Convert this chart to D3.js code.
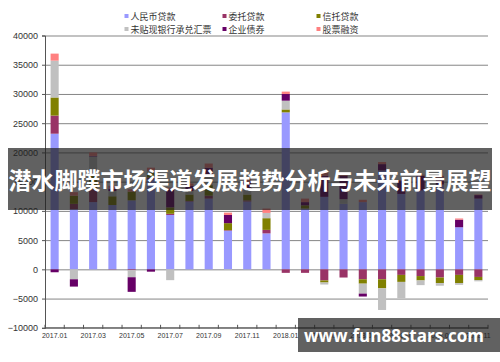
<!DOCTYPE html>
<html lang="zh">
<head>
    <meta charset="UTF-8">
    <title>社会融资规模构成</title>
    <script src="https://d3js.org/d3.v7.min.js"></script>
    <style>
        body {
            margin: 0;
            padding: 0;
            background-color: #fff;
        }

        svg {
            display: block;
        }
    </style>
</head>
<body>
    <svg id="chart" width="500" height="362"></svg>

    <script>
        // 月份 (2017.01 - 2018.11)
        const months = [
            "2017.01", "2017.02", "2017.03", "2017.04", "2017.05", "2017.06",
            "2017.07", "2017.08", "2017.09", "2017.10", "2017.11", "2017.12",
            "2018.01", "2018.02", "2018.03", "2018.04", "2018.05", "2018.06",
            "2018.07", "2018.08", "2018.09", "2018.10", "2018.11"
        ];

        const seriesNames = ["人民币贷款", "委托贷款", "信托贷款", "未贴现银行承兑汇票", "企业债券", "股票融资"];
        const seriesColors = ["#9999ff", "#993366", "#808000", "#c0c0c0", "#660066", "#ff8080"];

        // 各项数值 (亿元)
        const rmbLoans = [23200, 10300, 11500, 11000, 11800, 15400, 9300, 11600, 12100, 6600, 11600, 6150,
                          26850, 10400, 12400, 11200, 11500, 16900, 12900, 13500, 14500, 7200, 12100];
        const entrustedLoans = [3100, 900, 2200, -50, -150, 300, 200, 100, 500, 100, 200, 600,
                                -600, -600, -1900, -1400, -1700, -1700, -950, -1150, -1400, -950, -1300];
        const trustLoans = [3100, 1400, 2300, 1500, 1500, 800, 1100, 1100, 1800, 1200, 1000, 2000,
                            500, 550, -350, 0, -750, -1550, -1200, -750, -950, -1400, -550];
        const bankerAcceptances = [6300, -1700, 3300, 900, -1200, 300, -1850, 600, 1400, -100, 1000, 900,
                                   1500, 0, -350, 800, -1700, -3700, -2800, -800, -450, -300, -200];
        const corporateBonds = [-500, -1250, 100, 400, -2500, -400, 3200, 900, 1600, 1400, 1200, 0,
                                1150, 550, 3600, 4000, -500, 1100, 2200, 2500, 1200, 1300, 600];
        const equityFinancing = [1200, 600, 600, 500, 400, 600, 200, 400, 700, 400, 600, 750,
                                 400, 600, 600, 400, 400, 350, 200, 200, 300, 200, 100];

        const yTicks = [-10000, -5000, 0, 5000, 10000, 15000, 20000, 25000, 30000, 35000, 40000];
        const xLabels = months.filter((d, i) => i % 2 === 0);

        const title = "潜水脚蹼市场渠道发展趋势分析与未来前景展望";
        const watermark = "www.fun88stars.com";

        const svg = d3.select("#chart");

        const plotLeft = 45, plotRight = 488, plotTop = 35.5, plotBottom = 327.8;

        // build rows for d3.stack
        const seriesData = [rmbLoans, entrustedLoans, trustLoans, bankerAcceptances, corporateBonds, equityFinancing];
        const rows = months.map((m, i) => {
            const row = { month: m };
            seriesNames.forEach((s, j) => { row[s] = seriesData[j][i]; });
            return row;
        });

        const stacked = d3.stack()
            .keys(seriesNames)
            .offset(d3.stackOffsetDiverging)(rows);

        const x = d3.scaleBand()
            .domain(months)
            .range([plotLeft, plotRight])
            .paddingInner(0.58)
            .paddingOuter(0.29);

        const y = d3.scaleLinear()
            .domain([-10000, 40000])
            .range([plotBottom, plotTop]);

        // gridlines
        svg.append("g")
            .attr("transform", `translate(${plotLeft},0)`)
            .call(d3.axisLeft(y).tickValues(yTicks).tickSize(-(plotRight - plotLeft)).tickFormat(""))
            .call(g => g.select(".domain").remove())
            .selectAll("line")
            .attr("stroke", "#858585")
            .attr("stroke-width", 1);

        // bars
        const layers = svg.append("g")
            .selectAll("g")
            .data(stacked)
            .enter()
            .append("g")
            .attr("fill", (d, i) => seriesColors[i]);

        layers.selectAll("rect")
            .data(d => d)
            .enter()
            .append("rect")
            .attr("x", d => x(d.data.month))
            .attr("width", x.bandwidth())
            .attr("y", d => y(Math.max(d[0], d[1])))
            .attr("height", d => Math.abs(y(d[0]) - y(d[1])));

        // y axis
        const yAxis = svg.append("g")
            .attr("transform", `translate(${plotLeft},0)`)
            .call(d3.axisLeft(y).tickValues(yTicks).tickSize(3).tickPadding(4).tickFormat(d3.format("d")));
        yAxis.select(".domain").attr("stroke", "#555");
        yAxis.selectAll("line").attr("stroke", "#555");
        yAxis.selectAll("text")
            .attr("font-family", "'Liberation Sans', Arial, sans-serif")
            .attr("font-size", "9px")
            .attr("fill", "#333");

        // x axis line + ticks between categories
        svg.append("line")
            .attr("x1", plotLeft)
            .attr("x2", plotRight)
            .attr("y1", y(-10000))
            .attr("y2", y(-10000))
            .attr("stroke", "#555");

        svg.append("g")
            .selectAll("line")
            .data(d3.range(months.length + 1))
            .enter()
            .append("line")
            .attr("x1", i => plotLeft + x.step() * i)
            .attr("x2", i => plotLeft + x.step() * i)
            .attr("y1", y(-10000) - 3)
            .attr("y2", y(-10000) + 1)
            .attr("stroke", "#555");

        svg.append("g")
            .selectAll("text")
            .data(xLabels)
            .enter()
            .append("text")
            .attr("x", d => x(d) + x.bandwidth() / 2)
            .attr("y", y(-10000) + 10.5)
            .attr("text-anchor", "middle")
            .attr("font-family", "'Liberation Sans', Arial, sans-serif")
            .attr("font-size", "7px")
            .attr("fill", "#333")
            .text(d => d);

        // legend
        const legendPos = [[124.5, 16], [222.5, 16], [316.5, 16], [124.5, 29], [222.5, 29], [316.5, 29]];
        const legend = svg.append("g")
            .selectAll("g")
            .data(seriesNames)
            .enter()
            .append("g")
            .attr("transform", (d, i) => `translate(${legendPos[i][0]},${legendPos[i][1]})`);

        legend.append("rect")
            .attr("x", 0)
            .attr("y", -2)
            .attr("width", 4)
            .attr("height", 4)
            .attr("fill", (d, i) => seriesColors[i]);

        legend.append("text")
            .attr("x", 6)
            .attr("y", 3.5)
            .attr("font-family", "'Noto Sans CJK SC', sans-serif")
            .attr("font-size", "9px")
            .attr("fill", "#333")
            .text(d => d);

        // title banner over the chart
        svg.append("rect")
            .attr("x", 8)
            .attr("y", 148)
            .attr("width", 484)
            .attr("height", 62)
            .attr("fill", "rgba(30,30,30,0.7)");

        svg.append("text")
            .attr("x", 250)
            .attr("y", 189)
            .attr("text-anchor", "middle")
            .attr("font-family", "'Noto Sans CJK SC', sans-serif")
            .attr("font-weight", "bold")
            .attr("font-size", "23px")
            .attr("fill", "#fff")
            .text(title);

        // watermark banner
        svg.append("rect")
            .attr("x", 298)
            .attr("y", 318)
            .attr("width", 202)
            .attr("height", 34)
            .attr("fill", "rgba(30,30,30,0.7)");

        svg.append("text")
            .attr("x", 394)
            .attr("y", 342)
            .attr("text-anchor", "middle")
            .attr("font-family", "'Open Sans', 'Noto Sans', sans-serif")
            .attr("font-weight", "bold")
            .attr("font-size", "17px")
            .attr("fill", "#fff")
            .text(watermark);
    </script>
</body>
</html>
